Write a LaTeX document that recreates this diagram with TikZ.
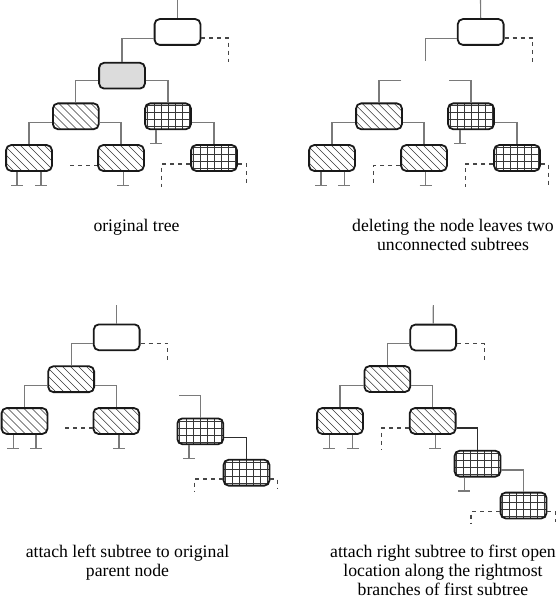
\documentclass[tikz,border=0pt]{standalone}
\usepackage{fontspec}
\setmainfont{Liberation Serif}
\usetikzlibrary{calc}
\definecolor{conncol}{RGB}{122,122,122}
\definecolor{darkconn}{RGB}{45,45,45}
\definecolor{dashcol}{RGB}{70,70,70}
\definecolor{bordercol}{RGB}{25,25,25}
\definecolor{patcol}{RGB}{55,55,55}
\definecolor{grayfill}{RGB}{220,220,220}
\newcommand\tgnd[2]{\draw[conn] ([xshift=#2]#1.south) -- ++(0pt,-13.5pt) ++(-6pt,0pt) -- ++(12pt,0pt);}
\begin{document}
\begin{tikzpicture}[x=1pt,y=-1pt,
  tnode/.style={draw=bordercol, line width=1.8pt, rounded corners=5pt,
    minimum width=45.8pt, minimum height=25.8pt, inner sep=0pt, fill=white},
  plainbox/.style={tnode},
  graybox/.style={tnode, fill=grayfill},
  hatchbox/.style={tnode, path picture={
     \foreach \i in {-64,-56,...,24}
       \draw[patcol, line width=0.6pt]
         ([xshift=\i pt, yshift=20pt]path picture bounding box.center) -- ++(40pt,-40pt);}},
  gridbox/.style={tnode, path picture={
     \foreach \i in {-21,-14,...,21}
       \draw[patcol, line width=0.6pt]
         ([xshift=\i pt, yshift=-16pt]path picture bounding box.center) -- ++(0pt,32pt);
     \foreach \j in {-10.5,-3.5,3.5,10.5}
       \draw[patcol, line width=0.6pt]
         ([yshift=\j pt, xshift=-26pt]path picture bounding box.center) -- ++(52pt,0pt);}},
  conn/.style={draw=conncol, line width=1.1pt},
  dconn/.style={draw=darkconn, line width=1.1pt},
  dashconn/.style={draw=dashcol, line width=1.1pt, dash pattern=on 4pt off 4pt},
  captext/.style={anchor=base, inner sep=0pt, font=\fontsize{17.7}{19}\selectfont}
]
\useasboundingbox (0,0) rectangle (559,604);

% ---------------- panel 1: original tree
\node[plainbox] (R1) at (177.5,32) {};
\node[graybox]  (G1) at (122,75.7) {};
\node[hatchbox] (A1) at (75.8,116.3) {};
\node[gridbox]  (B1) at (168,116.3) {};
\node[hatchbox] (A11) at (29,158) {};
\node[hatchbox] (A12) at (121,158) {};
\node[gridbox]  (B11) at (214,158) {};
\coordinate (p1top) at (177.5,0);
\coordinate (p1rd) at (228.7,61.7);
\coordinate (p1a12d) at (70.3,165.3);
\coordinate (p1b11l) at (161.7,187.3);
\coordinate (p1b11r) at (246.7,184);
\draw[conn] (p1top) -- (R1.north);
\draw[dashconn] ([yshift=-6pt]R1.east) -| (p1rd);
\draw[conn] ([yshift=-6.5pt]R1.west) -| (G1.north);
\draw[conn] ([yshift=-5pt]G1.west) -| (A1.north);
\draw[conn] ([yshift=-5pt]G1.east) -| (B1.north);
\draw[conn] ([yshift=-6.4pt]A1.west) -| (A11.north);
\draw[conn] ([yshift=-6.4pt]A1.east) -| (A12.north);
\draw[conn] ([yshift=-6.4pt]B1.east) -| (B11.north);
\tgnd{A11}{-12pt}
\tgnd{A11}{12pt}
\tgnd{A12}{2.3pt}
\tgnd{B1}{-12pt}
\draw[dashconn] (p1a12d) -- (p1a12d -| A12.west);
\draw[dashconn] ([yshift=-6pt]B11.west) -| (p1b11l);
\draw[dashconn] ([yshift=-6pt]B11.east) -| (p1b11r);
\node[captext] (c1a) at (136.5,231) {original tree};

% ---------------- panel 2: two unconnected subtrees
\node[plainbox] (R2) at (480.7,32) {};
\node[hatchbox] (A2) at (379,116.3) {};
\node[gridbox]  (B2) at (471,116.3) {};
\node[hatchbox] (A21) at (332,158) {};
\node[hatchbox] (A22) at (424,158) {};
\node[gridbox]  (B21) at (517,158) {};
\coordinate (p2top) at (480.5,0);
\coordinate (p2l) at (425.3,61);
\coordinate (p2rd) at (532.3,61.7);
\coordinate (p2as) at (401.3,80.7);
\coordinate (p2bs) at (449.3,80.7);
\coordinate (p2a22d) at (373.7,185.7);
\coordinate (p2b21l) at (465.3,187);
\coordinate (p2b21r) at (548.3,185);
\draw[conn] (p2top) -- (R2.north);
\draw[conn] ([yshift=-6.5pt]R2.west) -| (p2l);
\draw[dashconn] ([yshift=-6pt]R2.east) -| (p2rd);
\draw[conn] (p2as) -| (A2.north);
\draw[conn] (p2bs) -| (B2.north);
\draw[conn] ([yshift=-6.4pt]A2.west) -| (A21.north);
\draw[conn] ([yshift=-6.4pt]A2.east) -| (A22.north);
\draw[conn] ([yshift=-6.4pt]B2.east) -| (B21.north);
\tgnd{A21}{-11pt}
\tgnd{A21}{12.3pt}
\tgnd{A22}{1.7pt}
\tgnd{B2}{-11pt}
\draw[dashconn] ([yshift=-7.3pt]A22.west) -| (p2a22d);
\draw[dashconn] ([yshift=-6pt]B21.west) -| (p2b21l);
\draw[dashconn] ([yshift=-6pt]B21.east) -| (p2b21r);
\node[captext] (c2a) at (453,231) {deleting the node leaves two};
\node[captext] (c2b) at (453,250) {unconnected subtrees};

% ---------------- panel 3: attach left subtree
\node[plainbox] (R3) at (116.7,337.3) {};
\node[hatchbox] (A3) at (71.2,379.2) {};
\node[hatchbox] (A31) at (24.5,421) {};
\node[hatchbox] (A32) at (116.3,421) {};
\node[gridbox]  (B3) at (200.3,431.3) {};
\node[gridbox]  (B31) at (246.5,472.7) {};
\coordinate (p3top) at (116.7,305);
\coordinate (p3rd) at (167.7,364);
\coordinate (p3a32d) at (65.3,428);
\coordinate (p3bs) at (179.3,395.7);
\coordinate (p3b31l) at (194.3,491.7);
\coordinate (p3b31r) at (277.7,489);
\draw[conn] (p3top) -- (R3.north);
\draw[dashconn] ([yshift=-6pt]R3.east) -| (p3rd);
\draw[conn] ([yshift=-6pt]R3.west) -| (A3.north);
\draw[conn] ([yshift=-6.1pt]A3.west) -| (A31.north);
\draw[conn] ([yshift=-6.1pt]A3.east) -| (A32.north);
\tgnd{A31}{-11.2pt}
\tgnd{A31}{11.5pt}
\tgnd{A32}{2.7pt}
\draw[dashconn] (p3a32d) -- (p3a32d -| A32.west);
\draw[conn] (p3bs) -| (B3.north);
\tgnd{B3}{-11.3pt}
\draw[dconn] ([yshift=-6pt]B3.east) -| (B31.north);
\draw[dashconn] ([yshift=-6.3pt]B31.west) -| (p3b31l);
\draw[dashconn] ([yshift=-6.3pt]B31.east) -| (p3b31r);
\node[captext] (c3a) at (127.5,557.7) {attach left subtree to original};
\node[captext] (c3b) at (127.5,576.7) {parent node};

% ---------------- panel 4: attach right subtree
\node[plainbox] (R4) at (433.2,337.5) {};
\node[hatchbox] (A4) at (387.3,379) {};
\node[hatchbox] (A41) at (340,421) {};
\node[hatchbox] (A42) at (432.7,421) {};
\node[gridbox]  (B4) at (477.5,463.7) {};
\node[gridbox]  (B41) at (523.5,505.5) {};
\coordinate (p4top) at (433.3,305);
\coordinate (p4rd) at (484.3,364);
\coordinate (p4a42d) at (381.7,449);
\coordinate (p4b41l) at (471,524);
\coordinate (p4b41r) at (555.3,521.7);
\draw[conn] (p4top) -- (R4.north);
\draw[dashconn] ([yshift=-6pt]R4.east) -| (p4rd);
\draw[conn] ([yshift=-6pt]R4.west) -| (A4.north);
\draw[conn] ([yshift=-6.3pt]A4.west) -| (A41.north);
\draw[conn] ([yshift=-6.3pt]A4.east) -| (A42.north);
\tgnd{A41}{-10.7pt}
\tgnd{A41}{12.7pt}
\tgnd{A42}{2.6pt}
\draw[dashconn] ([yshift=-7pt]A42.west) -| (p4a42d);
\draw[dconn] ([yshift=-7pt]A42.east) -| (B4.north);
\tgnd{B4}{-13.2pt}
\draw[conn] ([yshift=-6.3pt]B4.east) -| (B41.north);
\draw[dashconn] ([yshift=-5.8pt]B41.west) -| (p4b41l);
\draw[dashconn] ([yshift=-5.8pt]B41.east) -| (p4b41r);
\node[captext] (c4a) at (443,557.7) {attach right subtree to first open};
\node[captext] (c4b) at (443,576.7) {location along the rightmost};
\node[captext] (c4c) at (443,595.7) {branches of first subtree};
\end{tikzpicture}
\end{document}
